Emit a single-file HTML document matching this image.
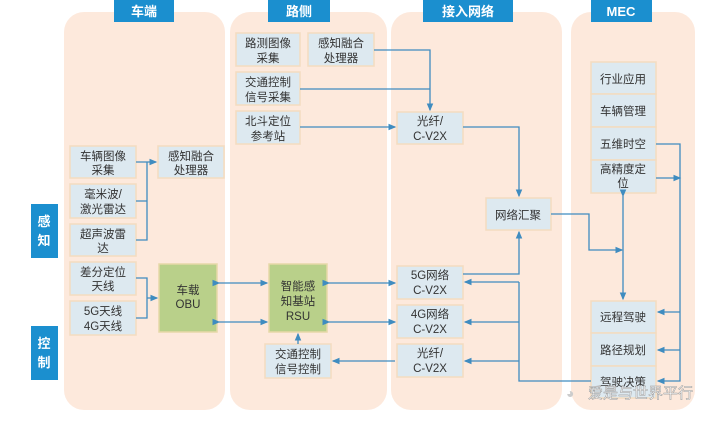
<html><head><style>body{margin:0;background:#fff}svg text{font-family:"Liberation Sans","Noto Sans CJK SC",sans-serif}</style></head><body>
<svg width="720" height="425" viewBox="0 0 720 425" xmlns="http://www.w3.org/2000/svg">
<defs><marker id="a" markerWidth="6" markerHeight="6" refX="5" refY="3" orient="auto"><path d="M0,0.5L6,3L0,5.5z" fill="#3f8cc0"/></marker></defs>
<g fill="#fde9dc">
<rect x="64" y="12" width="161" height="398" rx="20"/>
<rect x="230" y="12" width="157" height="398" rx="20"/>
<rect x="391" y="12" width="171" height="398" rx="20"/>
<rect x="571" y="12" width="124" height="398" rx="20"/>
</g>
<g fill="#1b8fcf"><rect x="114" y="0" width="60" height="22"/><rect x="268" y="0" width="62" height="22"/><rect x="423" y="0" width="90" height="22"/><rect x="591" y="0" width="61" height="22"/>
<rect x="31" y="204" width="27" height="54"/><rect x="31" y="326" width="27" height="54"/></g>
<g fill="#fff" font-size="13" font-weight="bold" text-anchor="middle"><text x="144" y="16">车端</text><text x="299" y="16">路侧</text><text x="468" y="16">接入网络</text><text x="621" y="16">MEC</text>
<text x="44" y="226">感</text><text x="44" y="245">知</text><text x="44" y="348">控</text><text x="44" y="367">制</text></g>
<g fill="#dde9f0" stroke="#f3dcc0" stroke-width="1.5">
<rect x="70" y="146" width="66" height="32"/><rect x="70" y="184" width="66" height="34"/><rect x="70" y="224" width="66" height="32"/><rect x="70" y="262" width="66" height="33"/><rect x="70" y="301" width="66" height="34"/>
<rect x="158" y="146" width="66" height="32"/>
<rect x="236" y="33" width="64" height="33"/><rect x="308" y="33" width="66" height="33"/><rect x="236" y="72" width="64" height="33"/><rect x="236" y="111" width="64" height="33"/>
<rect x="265" y="344" width="66" height="34"/>
<rect x="397" y="112" width="66" height="32"/><rect x="486" y="198" width="65" height="32"/><rect x="397" y="266" width="66" height="33"/><rect x="397" y="305" width="66" height="33"/><rect x="397" y="344" width="66" height="33"/>
<rect x="591" y="62" width="65" height="32"/><rect x="591" y="94" width="65" height="33"/><rect x="591" y="127" width="65" height="33"/><rect x="591" y="160" width="65" height="33"/>
<rect x="591" y="301" width="65" height="32"/><rect x="591" y="333" width="65" height="33"/><rect x="591" y="366" width="65" height="32"/>
</g>
<g fill="#b9d08a" stroke="#e6d8a8" stroke-width="1.5"><rect x="159" y="264" width="58" height="68"/><rect x="269" y="264" width="58" height="68"/></g>
<g fill="#333" font-size="11.5" text-anchor="middle">
<text x="103" y="160">车辆图像</text><text x="103" y="174">采集</text>
<text x="103" y="198">毫米波/</text><text x="103" y="213">激光雷达</text>
<text x="103" y="238">超声波雷</text><text x="103" y="252">达</text>
<text x="103" y="276">差分定位</text><text x="103" y="290">天线</text>
<text x="103" y="315">5G天线</text><text x="103" y="330">4G天线</text>
<text x="191" y="160">感知融合</text><text x="191" y="174">处理器</text>
<text x="188" y="294">车载</text><text x="188" y="308">OBU</text>
<text x="298" y="290">智能感</text><text x="298" y="305">知基站</text><text x="298" y="320">RSU</text>
<text x="268" y="47">路测图像</text><text x="268" y="62">采集</text>
<text x="341" y="47">感知融合</text><text x="341" y="62">处理器</text>
<text x="268" y="86">交通控制</text><text x="268" y="101">信号采集</text>
<text x="268" y="125">北斗定位</text><text x="268" y="140">参考站</text>
<text x="298" y="358">交通控制</text><text x="298" y="373">信号控制</text>
<text x="430" y="125">光纤/</text><text x="430" y="140">C-V2X</text>
<text x="518" y="219">网络汇聚</text>
<text x="430" y="279">5G网络</text><text x="430" y="294">C-V2X</text>
<text x="430" y="318">4G网络</text><text x="430" y="333">C-V2X</text>
<text x="430" y="357">光纤/</text><text x="430" y="372">C-V2X</text>
<text x="623" y="83">行业应用</text><text x="623" y="115">车辆管理</text><text x="623" y="148">五维时空</text>
<text x="623" y="173">高精度定</text><text x="623" y="187">位</text>
<text x="623" y="321">远程驾驶</text><text x="623" y="354">路径规划</text><text x="623" y="386">驾驶决策</text>
</g>
<g fill="none" stroke="#3f8cc0" stroke-width="1.3">
<path d="M136 162H156" marker-end="url(#a)"/><path d="M147 162V240H136M147 201H136"/>
<path d="M136 278H147V318H136M147 298H157" marker-end="url(#a)"/>
<path d="M219 283H267" marker-start="url(#a)" marker-end="url(#a)"/>
<path d="M219 322H267" marker-start="url(#a)" marker-end="url(#a)"/>
<path d="M329 283H395" marker-start="url(#a)" marker-end="url(#a)"/>
<path d="M329 322H395" marker-start="url(#a)" marker-end="url(#a)"/>
<path d="M298 344V334" marker-end="url(#a)"/>
<path d="M395 361H333" marker-end="url(#a)"/>
<path d="M374 50H430V110" marker-end="url(#a)"/>
<path d="M300 89H430"/>
<path d="M300 127H395" marker-end="url(#a)"/>
<path d="M463 127H519V196" marker-end="url(#a)"/>
<path d="M463 274H519V232" marker-end="url(#a)"/>
<path d="M551 214H589V250H622" marker-end="url(#a)"/>
<path d="M623 196V299" marker-start="url(#a)" marker-end="url(#a)"/>
<path d="M519 282H465" marker-end="url(#a)"/>
<path d="M519 322H465" marker-end="url(#a)"/>
<path d="M519 361H465" marker-end="url(#a)"/>
<path d="M519 282V381H591"/>
<path d="M656 144H680V381H658" marker-end="url(#a)"/>
<path d="M656 178H680" marker-end="url(#a)"/>
<path d="M680 312H658" marker-end="url(#a)"/>
<path d="M680 350H658" marker-end="url(#a)"/>
</g>
<text x="588" y="398" fill="#fff" stroke="#999" stroke-width="0.5" font-size="15">爱是与世界平行</text>
<text x="566" y="398" fill="#ccc" font-size="14">◕</text>
</svg>
</body></html>
